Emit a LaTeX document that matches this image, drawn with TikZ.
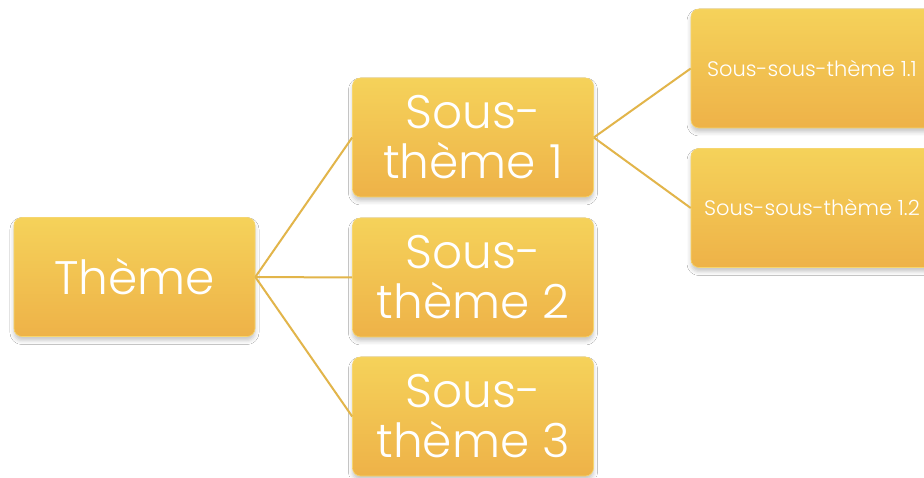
\documentclass[tikz,border=0pt]{standalone}
\usepackage{fontspec}
\setmainfont{Poppins}[UprightFont={* Light}]
\usetikzlibrary{shadows.blur}
\definecolor{boxtop}{RGB}{245,210,90}
\definecolor{boxbot}{RGB}{238,178,72}
\definecolor{boxedge}{RGB}{246,214,110}
\definecolor{linkc}{RGB}{226,181,74}
\tikzset{
  topicbox/.style={rectangle, rounded corners=8pt, top color=boxtop, bottom color=boxbot,
    draw=boxedge, line width=0.6pt, text=white, align=center, inner sep=0pt,
    minimum width=241pt, minimum height=119pt,
    blur shadow={shadow xshift=0pt, shadow yshift=-4pt, shadow blur radius=4pt, shadow opacity=22}},
  bigtxt/.style={font=\fontsize{47}{50}\selectfont},
  smalltxt/.style={font=\fontsize{21}{24}\selectfont},
  link/.style={draw=linkc, line width=2pt}
}
\begin{document}
\begin{tikzpicture}[x=1pt,y=1pt]
\useasboundingbox (0,0) rectangle (924,477);
\fill[white] (0,0) rectangle (924,477);
\node[topicbox, bigtxt] (theme) at (134.5,200) {Thème};
\node[topicbox, bigtxt] (st1) at (473,339.5) {Sous-\\thème 1};
\node[topicbox, bigtxt] (st2) at (473,199.5) {Sous-\\thème 2};
\node[topicbox, bigtxt] (st3) at (473,60.5) {Sous-\\thème 3};
\node[topicbox, smalltxt, minimum width=242pt] (ss1) at (812,408.5) {Sous-sous-thème 1.1};
\node[topicbox, smalltxt, minimum width=242pt] (ss2) at (812,269) {Sous-sous-thème 1.2};
\draw[link] (theme.east) -- (st1.west);
\draw[link] (theme.east) -- (st2.west);
\draw[link] (theme.east) -- (st3.west);
\draw[link] (st1.east) -- (ss1.west);
\draw[link] (st1.east) -- (ss2.west);
\end{tikzpicture}
\end{document}
